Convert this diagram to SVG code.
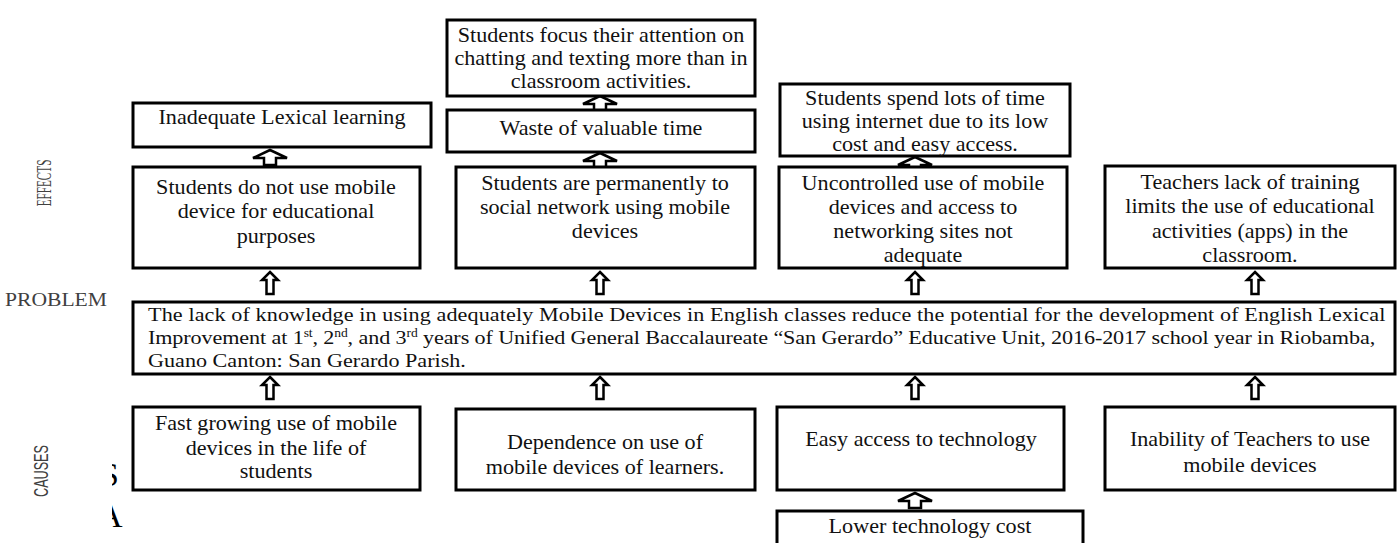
<svg xmlns="http://www.w3.org/2000/svg" width="1400" height="543" viewBox="0 0 1400 543">
<style>
.box{fill:#fff;stroke:#000;stroke-width:3}
.t{font-family:"Liberation Serif","Times New Roman",serif;font-size:20.5px;fill:#111;text-anchor:middle}
.p{font-family:"Liberation Serif","Times New Roman",serif;font-size:19.6px;fill:#111}
.lbl{font-family:"Liberation Serif","Times New Roman",serif;font-size:17px;fill:#404040}
.lbls{font-family:"Liberation Sans",Arial,sans-serif;font-size:16px;fill:#404040}
.arr{fill:#fff;stroke:#000;stroke-width:2.5;stroke-linejoin:miter}
.frag{font-family:"Liberation Serif","Times New Roman",serif;font-size:34px;fill:#000}
</style>
<defs>
<path id="big" d="M0,0 L8,8 L3.5,8 L3.5,22 L-3.5,22 L-3.5,8 L-8,8 Z"/>
<path id="small" d="M0,0 L17,8 L6,8 L6,15 L-6,15 L-6,8 L-17,8 Z"/>
<clipPath id="fc"><rect x="112" y="440" width="20" height="100"/></clipPath>
</defs>

<g id="side-labels">
<text class="lbl" transform="translate(51,183) rotate(-90) scale(0.66,1.25)" text-anchor="middle">EFFECTS</text>
<text class="lbl" transform="translate(5,306) scale(1.2,1)" style="font-size:18px">PROBLEM</text>
<text class="lbls" transform="translate(48,471) rotate(-90) scale(0.79,1.3)" text-anchor="middle">CAUSES</text>
</g>

<g id="fragments" clip-path="url(#fc)">
<text class="frag" x="100" y="486">S</text>
<text class="frag" x="98" y="527">A</text>
</g>

<g id="connectors">
<use href="#small" class="arr" x="270" y="150"/>
<use href="#small" class="arr" x="600" y="96"/>
<use href="#small" class="arr" x="600" y="153"/>
<use href="#small" class="arr" x="915" y="157"/>
<use href="#small" class="arr" x="915" y="493"/>
<use href="#big" class="arr" x="270" y="272"/>
<use href="#big" class="arr" x="600" y="272"/>
<use href="#big" class="arr" x="915" y="272"/>
<use href="#big" class="arr" x="1255" y="272"/>
<use href="#big" class="arr" x="270" y="377"/>
<use href="#big" class="arr" x="600" y="377"/>
<use href="#big" class="arr" x="915" y="377"/>
<use href="#big" class="arr" x="1255" y="377"/>
</g>

<g id="e-inadequate">
<rect class="box" x="133" y="103" width="298" height="44"/>
<text class="t" transform="translate(282,124) scale(1.08,1)">Inadequate Lexical learning</text>
</g>
<g id="e-focus">
<rect class="box" x="447" y="20" width="308" height="76"/>
<text class="t" transform="translate(601,42) scale(1.08,1)">Students focus their attention on</text>
<text class="t" transform="translate(601,65) scale(1.08,1)">chatting and texting more than in</text>
<text class="t" transform="translate(601,88) scale(1.08,1)">classroom activities.</text>
</g>
<g id="e-waste">
<rect class="box" x="447" y="110" width="308" height="42"/>
<text class="t" transform="translate(601,135) scale(1.08,1)">Waste of valuable time</text>
</g>
<g id="e-spend">
<rect class="box" x="780" y="84" width="290" height="72"/>
<text class="t" transform="translate(925,105) scale(1.08,1)">Students spend lots of time</text>
<text class="t" transform="translate(925,128) scale(1.08,1)">using internet due to its low</text>
<text class="t" transform="translate(925,151) scale(1.08,1)">cost and easy access.</text>
</g>
<g id="e-notuse">
<rect class="box" x="133" y="167" width="287" height="101"/>
<text class="t" transform="translate(276,194) scale(1.08,1)">Students do not use mobile</text>
<text class="t" transform="translate(276,218) scale(1.08,1)">device for educational</text>
<text class="t" transform="translate(276,243) scale(1.08,1)">purposes</text>
</g>
<g id="e-permanent">
<rect class="box" x="456" y="167" width="299" height="101"/>
<text class="t" transform="translate(605,190) scale(1.08,1)">Students are permanently to</text>
<text class="t" transform="translate(605,214) scale(1.08,1)">social network using mobile</text>
<text class="t" transform="translate(605,238) scale(1.08,1)">devices</text>
</g>
<g id="e-uncontrolled">
<rect class="box" x="779" y="167" width="288" height="101"/>
<text class="t" transform="translate(923,190) scale(1.08,1)">Uncontrolled use of mobile</text>
<text class="t" transform="translate(923,214) scale(1.08,1)">devices and access to</text>
<text class="t" transform="translate(923,238) scale(1.08,1)">networking sites not</text>
<text class="t" transform="translate(923,262) scale(1.08,1)">adequate</text>
</g>
<g id="e-teachers">
<rect class="box" x="1105" y="166" width="290" height="102"/>
<text class="t" transform="translate(1250,189) scale(1.08,1)">Teachers lack of training</text>
<text class="t" transform="translate(1250,213) scale(1.08,1)">limits the use of educational</text>
<text class="t" transform="translate(1250,238) scale(1.08,1)">activities (apps) in the</text>
<text class="t" transform="translate(1250,262) scale(1.08,1)">classroom.</text>
</g>

<g id="problem">
<rect class="box" x="133" y="302" width="1262" height="72"/>
<text class="p" transform="translate(148,321) scale(1.13,1)" textLength="1095" lengthAdjust="spacing">The lack of knowledge in using adequately Mobile Devices in English classes reduce the potential for the development of English Lexical</text>
<text class="p" transform="translate(148,344) scale(1.13,1)" textLength="1086" lengthAdjust="spacing">Improvement at 1<tspan font-size="12" dy="-7">st</tspan><tspan dy="7">, 2</tspan><tspan font-size="12" dy="-7">nd</tspan><tspan dy="7">, and 3</tspan><tspan font-size="12" dy="-7">rd</tspan><tspan dy="7"> years of Unified General Baccalaureate “San Gerardo” Educative Unit, 2016-2017 school year in Riobamba,</tspan></text>
<text class="p" transform="translate(148,367) scale(1.13,1)">Guano Canton: San Gerardo Parish.</text>
</g>

<g id="c-fast">
<rect class="box" x="133" y="407" width="287" height="83"/>
<text class="t" transform="translate(276,430) scale(1.08,1)">Fast growing use of mobile</text>
<text class="t" transform="translate(276,455) scale(1.08,1)">devices in the life of</text>
<text class="t" transform="translate(276,478) scale(1.08,1)">students</text>
</g>
<g id="c-dependence">
<rect class="box" x="456" y="409" width="299" height="81"/>
<text class="t" transform="translate(605,449) scale(1.08,1)">Dependence on use of</text>
<text class="t" transform="translate(605,474) scale(1.08,1)">mobile devices of learners.</text>
</g>
<g id="c-easy">
<rect class="box" x="777" y="407" width="287" height="83"/>
<text class="t" transform="translate(921,446) scale(1.08,1)">Easy access to technology</text>
</g>
<g id="c-inability">
<rect class="box" x="1105" y="407" width="290" height="83"/>
<text class="t" transform="translate(1250,446) scale(1.08,1)">Inability of Teachers to use</text>
<text class="t" transform="translate(1250,472) scale(1.08,1)">mobile devices</text>
</g>
<g id="c-lower">
<rect class="box" x="777" y="511" width="306" height="40"/>
<text class="t" transform="translate(930,533) scale(1.08,1)">Lower technology cost</text>
</g>
</svg>
